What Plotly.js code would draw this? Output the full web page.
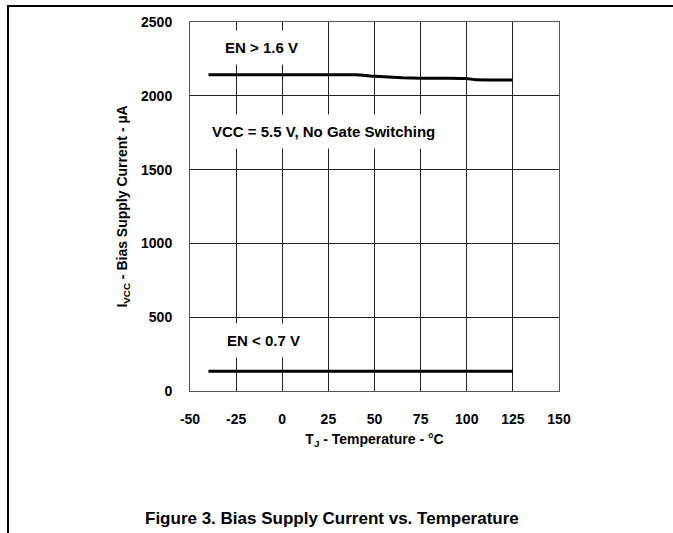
<!DOCTYPE html>
<html>
<head>
<meta charset="utf-8">
<script src="https://cdn.plot.ly/plotly-3.0.1.min.js"></script>
<style>
html,body{margin:0;padding:0;background:#fff;overflow:hidden;}
#wrap{position:relative;width:673px;height:533px;overflow:hidden;}
#chart{width:673px;height:533px;}
.frameH{position:absolute;left:7px;right:0;top:5px;height:2px;background:#000;}
.frameV{position:absolute;left:7px;top:5px;bottom:0;width:2px;background:#000;}
.cover{position:absolute;left:600px;right:0;top:7px;height:150px;background:#fff;}
</style>
</head>
<body>
<div id="wrap">
<div id="chart"></div>
<div class="cover"></div>
<div class="frameH"></div>
<div class="frameV"></div>
</div>
<script>
// Data
const tempHigh = [-40, -25, 0, 25, 40, 50, 65, 75, 90, 100, 105, 125];
const currentHigh = [2143, 2143, 2143, 2143, 2143, 2132, 2122, 2119, 2119, 2117, 2108, 2107];
const tempLow = [-40, -25, 0, 25, 50, 75, 100, 125];
const currentLow = [133, 133, 133, 133, 133, 133, 133, 133];
const xTicks = [-50, -25, 0, 25, 50, 75, 100, 125, 150];
const yTicks = [0, 500, 1000, 1500, 2000, 2500];
const labelHigh = "EN > 1.6 V";
const labelCond = "VCC = 5.5 V, No Gate Switching";
const labelLow = "EN < 0.7 V";
const figTitle = "Figure 3. Bias Supply Current vs. Temperature";

const FONT = "Liberation Sans, Arial, sans-serif";
const esc = s => s.replace(/</g, "&lt;").replace(/>/g, "&gt;");

const traces = [
  {x: tempHigh, y: currentHigh, mode: "lines", line: {color: "#000", width: 3, shape: "spline", smoothing: 0.3}, hoverinfo: "skip"},
  {x: tempLow, y: currentLow, mode: "lines", line: {color: "#000", width: 3}, hoverinfo: "skip"}
];

const tickFont = {family: FONT, size: 14, color: "#000"};
const layout = {
  width: 673, height: 533,
  margin: {l: 190, r: 114, t: 22, b: 141.5, pad: 0},
  paper_bgcolor: "#fff", plot_bgcolor: "#fff",
  showlegend: false,
  xaxis: {
    range: [-50, 150], tickvals: xTicks, ticktext: xTicks.map(v => "<b>" + v + "</b>"),
    showgrid: true, gridcolor: "#222", gridwidth: 1, zeroline: false,
    showline: true, linecolor: "#555", linewidth: 1, mirror: true,
    ticks: "", ticklabelstandoff: 15, tickfont: tickFont,
    title: {text: "<b>T<sub>J</sub> - Temperature - °C</b>", font: {family: FONT, size: 14, color: "#000"}, standoff: 8}
  },
  yaxis: {
    range: [0, 2500], tickvals: yTicks, ticktext: yTicks.map(v => "<b>" + v + "</b>"),
    showgrid: true, gridcolor: "#222", gridwidth: 1, zeroline: false,
    showline: true, linecolor: "#555", linewidth: 1, mirror: true,
    ticks: "", ticklabelstandoff: 14, tickfont: tickFont,
    title: {text: "<b>I<sub>VCC</sub> - Bias Supply Current - µA</b>", font: {family: FONT, size: 14, color: "#000"}, standoff: 10}
  },
  annotations: [
    {x: -11.5, y: 2325, xref: "x", yref: "y", text: "<b>" + esc(labelHigh) + "</b>", showarrow: false,
     font: {family: FONT, size: 15, color: "#000"}, bgcolor: "#fff", borderpad: 8},
    {x: 22.6, y: 1760, xref: "x", yref: "y", text: "<b>" + esc(labelCond) + "</b>", showarrow: false,
     font: {family: FONT, size: 15, color: "#000"}, bgcolor: "#fff", borderpad: 8},
    {x: -10.4, y: 344, xref: "x", yref: "y", text: "<b>" + esc(labelLow) + "</b>", showarrow: false,
     font: {family: FONT, size: 15, color: "#000"}, bgcolor: "#fff", borderpad: 8},
    {x: (332 - 190) / 369, y: -(519 - 391.5) / 369.5, xref: "paper", yref: "paper", text: "<b>" + figTitle + "</b>",
     showarrow: false, font: {family: FONT, size: 17, color: "#000"}, xanchor: "center", yanchor: "middle"}
  ]
};

Plotly.newPlot("chart", traces, layout, {staticPlot: true, displayModeBar: false});
</script>
</body>
</html>
